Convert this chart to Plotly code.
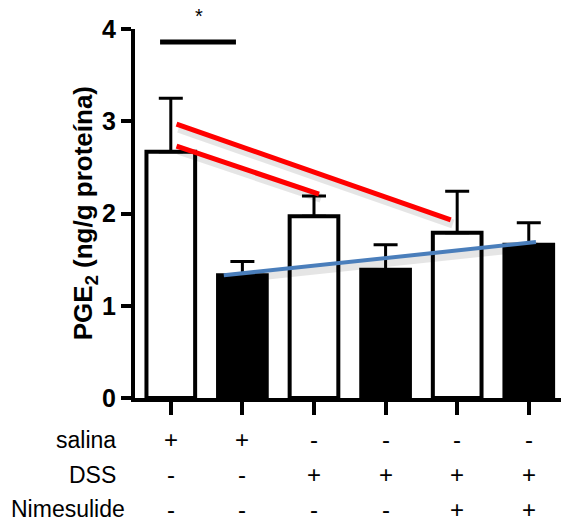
import plotly.graph_objects as go

# Groups and measured PGE2 levels
groups = [0, 1, 2, 3, 4, 5]
pge2_mean = [2.67, 1.33, 1.97, 1.39, 1.79, 1.66]
pge2_sem = [0.58, 0.15, 0.22, 0.27, 0.45, 0.24]
bar_fill = ["white", "black", "white", "black", "white", "black"]

# Treatment table under the axis
row_labels = ["salina", "DSS", "Nimesulide"]
salina = ["+", "+", "-", "-", "-", "-"]
dss = ["-", "-", "+", "+", "+", "+"]
nimesulide = ["-", "-", "-", "-", "+", "+"]

# Trend lines (x in group units, y in ng/g)
red_long_x = [0.08, 3.91]
red_long_y = [2.97, 1.93]
red_short_x = [0.08, 2.07]
red_short_y = [2.73, 2.21]
blue_x = [0.74, 5.10]
blue_y = [1.33, 1.69]

# Significance bracket
sig_x = [-0.15, 0.91]
sig_y = [3.86, 3.86]

fig = go.Figure()

fig.add_trace(go.Bar(
    x=groups, y=pge2_mean, width=0.68,
    marker=dict(color=bar_fill, line=dict(color="black", width=4)),
    error_y=dict(type="data", array=pge2_sem, arrayminus=[0] * 6,
                 symmetric=False, color="black", thickness=3, width=12),
    showlegend=False,
))

# soft drop shadows under the trend lines
for lx, ly in [(red_long_x, red_long_y), (red_short_x, red_short_y), (blue_x, blue_y)]:
    fig.add_trace(go.Scatter(
        x=[v + 0.03 for v in lx], y=[v - 0.045 for v in ly], mode="lines",
        line=dict(color="rgba(0,0,0,0.10)", width=9), showlegend=False,
        hoverinfo="skip"))

for lx, ly, col, w in [(red_long_x, red_long_y, "#ff0000", 5),
                       (red_short_x, red_short_y, "#ff0000", 5),
                       (blue_x, blue_y, "#4a7ebb", 4)]:
    fig.add_trace(go.Scatter(x=lx, y=ly, mode="lines",
                             line=dict(color=col, width=w), showlegend=False))

fig.add_trace(go.Scatter(x=sig_x, y=sig_y, mode="lines",
                         line=dict(color="black", width=5), showlegend=False,
                         cliponaxis=False))

annotations = [dict(x=0.39, y=1.035, xref="x", yref="paper", text="*",
                    showarrow=False, yanchor="middle",
                    font=dict(family="Liberation Sans, Arial", size=20, color="black"))]

table_font = "Liberation Sans, Arial"
row_y = [-0.113, -0.208, -0.302]
row_x = [-0.04, -0.04, -0.019]
for lab, yy, xx in zip(row_labels, row_y, row_x):
    annotations.append(dict(x=xx, y=yy, xref="paper", yref="paper", text=lab,
                            xanchor="right", yanchor="middle", showarrow=False,
                            font=dict(family=table_font, size=23, color="black")))
for row, yy in zip([salina, dss, nimesulide], row_y):
    for g, s in zip(groups, row):
        annotations.append(dict(x=g, y=yy, xref="x", yref="paper", text=s,
                                xanchor="center", yanchor="middle", showarrow=False,
                                font=dict(family=table_font, size=24, color="black")))

annotations.append(dict(
    x=-0.118, y=0.5, xref="paper", yref="paper",
    text="<b>PGE<sub>2</sub> (ng/g proteína)</b>", textangle=-90,
    showarrow=False, xanchor="center", yanchor="middle",
    font=dict(family="Liberation Sans, Arial", size=26, color="black")))

fig.update_layout(
    width=561, height=522,
    margin=dict(l=135, r=0, t=29, b=124),
    plot_bgcolor="white", paper_bgcolor="white",
    annotations=annotations,
)
fig.update_xaxes(range=[-0.5, 5.45], tickvals=groups, showticklabels=False,
                 showline=True, linecolor="black", linewidth=4,
                 ticks="outside", ticklen=13, tickwidth=4, tickcolor="black",
                 showgrid=False, zeroline=False)
fig.update_yaxes(range=[0, 4], tickvals=[0, 1, 2, 3, 4],
                 showline=True, linecolor="black", linewidth=4,
                 ticks="outside", ticklen=10, tickwidth=4, tickcolor="black",
                 tickfont=dict(family="Liberation Sans, Arial", size=25, color="black",
                               weight="bold"),
                 showgrid=False, zeroline=False)

fig.write_html("out.html")
